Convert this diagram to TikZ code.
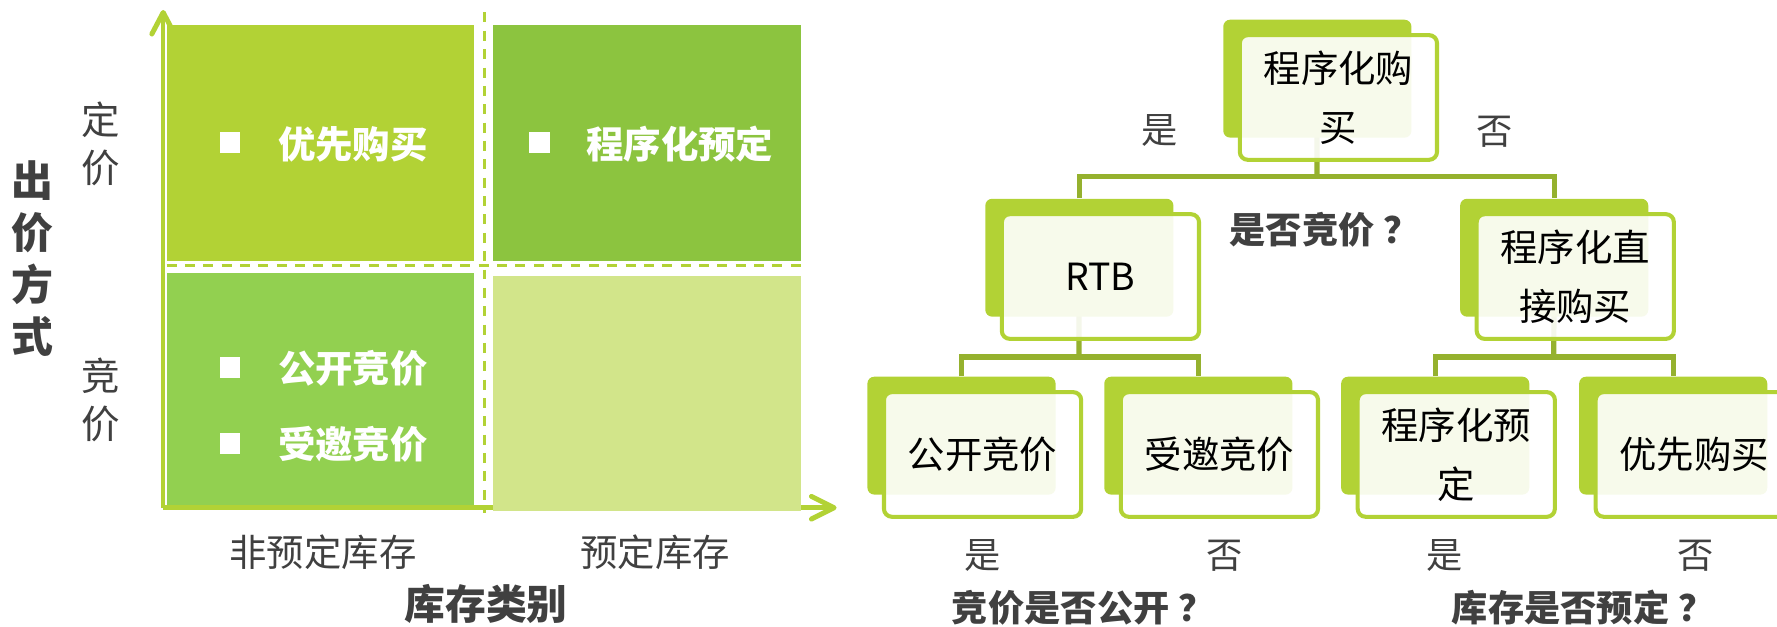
\documentclass[tikz,border=0pt]{standalone}
\usepackage{fontspec}
\setmainfont{Noto Sans CJK SC}
\usetikzlibrary{arrows.meta}
\definecolor{gA}{HTML}{B2D235}
\definecolor{gB}{HTML}{8CC43F}
\definecolor{gC}{HTML}{92D050}
\definecolor{gD}{HTML}{D2E58A}
\definecolor{lineG}{HTML}{95B12E}
\definecolor{txt}{HTML}{404040}
\pgfdeclarelayer{bg}
\pgfsetlayers{bg,main}
\newcommand\tnode[4]{%
  \node[backbox] (#1b) at (#2,#3) {};
  \node[frontbox] (#1) at (#2+102,#3+69) {#4};}
\newcommand\qm{\hspace{0.25em}？}
\begin{document}
\begin{tikzpicture}[x=0.5pt,y=-0.5pt,
  backbox/.style={fill=gA, rounded corners=3pt, minimum width=83pt, minimum height=52pt, anchor=north west, inner sep=0pt},
  frontbox/.style={draw=gA, line width=1.8pt, fill=white, fill opacity=0.9, text opacity=1, rounded corners=3.5pt, minimum width=87pt, minimum height=55pt, align=center, font=\fontsize{16.5}{26}\selectfont, inner sep=0pt, text=black},
  conn/.style={draw=lineG, line width=2.3pt},
  lbl/.style={text=txt, font=\fontsize{16}{20}\selectfont, inner sep=0pt},
  blbl/.style={text=txt, font=\fontsize{16}{20}\selectfont\bfseries, inner sep=0pt},
  qtext/.style={text=white, font=\fontsize{16.5}{20}\selectfont\bfseries, anchor=west, inner sep=0pt},
  bullet/.style={fill=white, minimum size=9.2pt, inner sep=0pt},
  axisline/.style={draw=gA, line width=2pt},
  axishead/.style={draw=gA, line width=2.2pt, line cap=round, line join=round},
  dashline/.style={draw=gA, line width=1.3pt, dash pattern=on 4.4pt off 3.7pt}
]
\useasboundingbox (0,0) rectangle (1568,553);
\clip (0,0) rectangle (1568,553);

% ---------- left: matrix ----------
\draw[axisline] (144,448) -- (144,13);
\draw[axisline] (144,448) -- (734,448);
\draw[axishead] (134,30) -- (144,11) -- (154,30);
\draw[axishead] (716,438) -- (736,448) -- (716,458);
\fill[gA] (147,22) rectangle (418,230);
\fill[gB] (435,22) rectangle (707,230);
\fill[gC] (147,241) rectangle (418,446);
\fill[gD] (435,243.5) rectangle (707,451);
\draw[dashline] (427.7,11) -- (427.7,453);
\draw[dashline] (147,234) -- (707,234);

\node[bullet] (b1) at (203,126) {};
\node[qtext] (q1) at (245,127) {优先购买};
\node[bullet] (b2) at (476,126) {};
\node[qtext] (q2) at (517,127) {程序化预定};
\node[bullet] (b3) at (203,324) {};
\node[qtext] (q3) at (245,325) {公开竞价};
\node[bullet] (b4) at (203,391) {};
\node[qtext] (q4) at (245,392) {受邀竞价};

\node[text=txt, font=\fontsize{17}{21}\selectfont, align=center, inner sep=0pt] (ding) at (89,127) {定\\价};
\node[text=txt, font=\fontsize{17}{21}\selectfont, align=center, inner sep=0pt] (jing) at (89,353) {竞\\价};
\node[text=txt, font=\fontsize{18.5}{23}\selectfont\bfseries, align=center, inner sep=0pt] (ylab) at (29,228) {出\\价\\方\\式};
\node[text=txt, font=\fontsize{16.5}{20}\selectfont, inner sep=0pt] (x1) at (285,487) {非预定库存};
\node[text=txt, font=\fontsize{16.5}{20}\selectfont, inner sep=0pt] (x2) at (578,487) {预定库存};
\node[text=txt, font=\fontsize{18}{22}\selectfont\bfseries, inner sep=0pt] (xlab) at (429,533) {库存类别};

% ---------- right: tree ----------
\tnode{root}{1079}{17}{程序化购\\买}
\tnode{rtb}{869}{175}{RTB}
\tnode{dir}{1288}{175}{程序化直\\接购买}
\tnode{ca}{765}{332}{公开竞价}
\tnode{cb}{974}{332}{受邀竞价}
\tnode{cc}{1183}{332}{程序化预\\定}
\tnode{cd}{1393}{332}{优先购买}

\coordinate (j0) at (1162,156);
\coordinate (j1) at (952,315);
\coordinate (j2) at (1371,315);
\begin{pgfonlayer}{bg}
\draw[conn] (rootb.center) -- (j0);
\draw[conn] (rtbb.north) |- (j0) -| (dirb.north);
\draw[conn] (rtbb.center) -- (j1);
\draw[conn] (cab.north) |- (j1) -| (cbb.north);
\draw[conn] (dirb.center) -- (j2);
\draw[conn] (ccb.north) |- (j2) -| (cdb.north);
\end{pgfonlayer}

\node[lbl] (y0) at (1023,115) {是};
\node[lbl] (n0) at (1319,116) {否};
\node[blbl] (qa) at (1169,203) {是否竞价\qm};
\node[lbl] (y1) at (867,490) {是};
\node[lbl] (n1) at (1081,490) {否};
\node[lbl] (y2) at (1275,490) {是};
\node[lbl] (n2) at (1496,490) {否};
\node[blbl] (qb) at (956,536) {竞价是否公开\qm};
\node[blbl] (qc) at (1397,536) {库存是否预定\qm};
\end{tikzpicture}
\end{document}
